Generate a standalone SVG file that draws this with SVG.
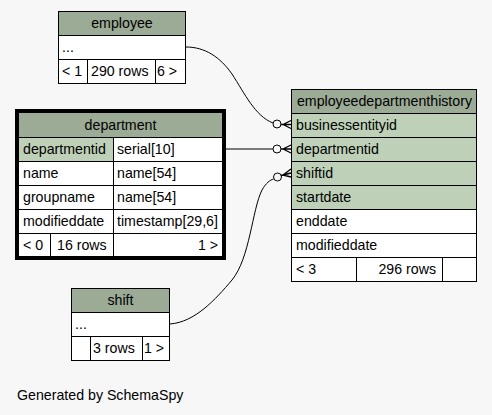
<svg xmlns="http://www.w3.org/2000/svg" width="492" height="415" viewBox="0 0 492 415">
<style>
text{font-family:"Liberation Sans",Arial,sans-serif;font-size:14.2px;fill:#000}
.c{text-anchor:middle}
.r{text-anchor:end}
.hd{fill:#9bab96}
.pk{fill:#bed1b8}
.bd{fill:#ffffff}
.ln{stroke:#000;stroke-width:1;fill:none}
.edge{stroke:#000;stroke-width:1;fill:none}
.dot{stroke:#000;stroke-width:1;fill:none}
.crow{stroke:#000;stroke-width:1.3;fill:none}
</style>
<rect x="0" y="0" width="492" height="415" fill="#f7f7f7"/>

<g id="employee">
<rect class="hd" x="58.5" y="11.5" width="127" height="24"/>
<rect class="bd" x="58.5" y="35.5" width="127" height="48"/>
<rect class="ln" x="58.5" y="11.5" width="127" height="72"/>
<path class="ln" d="M58.5,35.5H185.5M58.5,59.5H185.5M87.5,59.5V83.5M155.5,59.5V83.5"/>
<text class="c" x="122" y="28">employee</text>
<text x="62" y="52">...</text>
<text x="62" y="76">&lt; 1</text>
<text x="91" y="76">290 rows</text>
<text x="157" y="76">6 &gt;</text>
</g>

<g id="department">
<rect class="hd" x="19" y="113" width="203" height="24"/>
<rect class="pk" x="19" y="137" width="94" height="24"/>
<rect class="bd" x="113" y="137" width="109" height="24"/>
<rect class="bd" x="19" y="161" width="203" height="96"/>
<path class="ln" d="M19,137.5H222M19,161.5H222M19,185.5H222M19,209.5H222M19,233.5H222M113.5,137V233M50.5,233V257M113.5,233V257"/>
<rect x="17" y="111" width="207" height="147" fill="none" stroke="#000" stroke-width="4"/>
<text class="c" x="120.5" y="130">department</text>
<text x="23" y="154">departmentid</text>
<text x="117" y="154">serial[10]</text>
<text x="23" y="178">name</text>
<text x="117" y="178">name[54]</text>
<text x="23" y="202">groupname</text>
<text x="117" y="202">name[54]</text>
<text x="23" y="226">modifieddate</text>
<text x="117" y="226">timestamp[29,6]</text>
<text x="23" y="250">&lt; 0</text>
<text x="57" y="250">16 rows</text>
<text class="r" x="218" y="250">1 &gt;</text>
</g>

<g id="employeedepartmenthistory">
<rect class="hd" x="291.5" y="89.5" width="185" height="24"/>
<rect class="pk" x="291.5" y="113.5" width="185" height="96"/>
<rect class="bd" x="291.5" y="209.5" width="185" height="72"/>
<rect class="ln" x="291.5" y="89.5" width="185" height="192"/>
<path class="ln" d="M291.5,113.5H476.5M291.5,137.5H476.5M291.5,161.5H476.5M291.5,185.5H476.5M291.5,209.5H476.5M291.5,233.5H476.5M291.5,257.5H476.5M356.5,257.5V281.5M442.5,257.5V281.5"/>
<text class="c" x="384.5" y="106">employeedepartmenthistory</text>
<text x="296" y="130">businessentityid</text>
<text x="296" y="154">departmentid</text>
<text x="296" y="178">shiftid</text>
<text x="296" y="202">startdate</text>
<text x="296" y="226">enddate</text>
<text x="296" y="250">modifieddate</text>
<text x="296" y="274">&lt; 3</text>
<text class="r" x="436" y="274">296 rows</text>
</g>

<g id="shift">
<rect class="hd" x="71.5" y="288.5" width="98" height="24"/>
<rect class="bd" x="71.5" y="312.5" width="98" height="48"/>
<rect class="ln" x="71.5" y="288.5" width="98" height="72"/>
<path class="ln" d="M71.5,312.5H169.5M71.5,336.5H169.5M90.5,336.5V360.5M142.5,336.5V360.5"/>
<text class="c" x="120.5" y="305">shift</text>
<text x="75" y="329">...</text>
<text x="93" y="353">3 rows</text>
<text x="144" y="353">1 &gt;</text>
</g>

<g id="connectors">
<path class="edge" d="M186,47 C205,47 220,57 232,74 C245,94 255,116 273,123"/>
<circle class="dot" cx="277" cy="124" r="4"/>
<path class="crow" d="M281,124.5H291M283,124.5L291,120.5M283,124.5L291,128.5"/>

<path class="edge" d="M222,149H273"/>
<circle class="dot" cx="277" cy="149" r="4"/>
<path class="crow" d="M281,149H291M283,149L291,145M283,149L291,153"/>

<path class="edge" d="M170,324 C195,322 215,300 232,280 C250,258 252,210 262,190 C266,183 270,180 273.5,179"/>
<circle class="dot" cx="277.5" cy="177" r="4"/>
<path class="crow" d="M281,175.5L291,173M283,175L291,169M283,175L291,177"/>
</g>

<text x="17" y="400">Generated by SchemaSpy</text>
</svg>
